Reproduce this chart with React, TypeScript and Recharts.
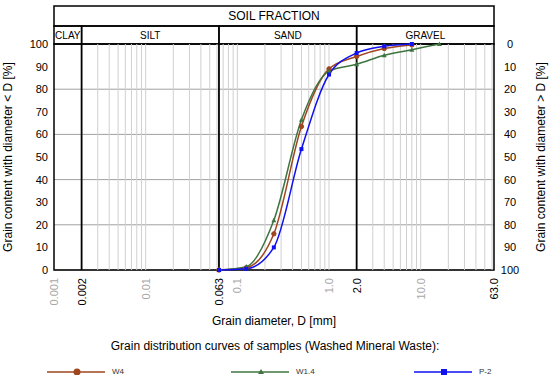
import React from 'react';
import {
  LineChart, Line, XAxis, YAxis, CartesianGrid, ReferenceLine, ReferenceArea
} from 'recharts';

// sieve sizes [mm] and passing percentages per sample
const DIAMETERS = [0.063, 0.125, 0.25, 0.5, 1, 2, 4, 8, 16];
const W4 = [0, 1, 16, 63.5, 89, 94.5, 98, 99.6];
const W14 = [0, 1.5, 22, 66.5, 88, 91, 95, 97.5, 100];
const P2 = [0, 0.5, 10, 53.5, 86.5, 96, 99, 100];

const X_TICKS = [0.001, 0.002, 0.01, 0.063, 0.1, 1, 2, 10, 63];
const X_LABELS = ['0.001', '0.002', '0.01', '0.063', '0.1', '1.0', '2.0', '10.0', '63.0'];
const X_BLACK = [0.002, 0.063, 2, 63];
const Y_TICKS = [0, 10, 20, 30, 40, 50, 60, 70, 80, 90, 100];
const BOUNDS = [0.002, 0.063, 2];
const FRACTIONS = [
  { name: 'CLAY', from: 0.001, to: 0.002 },
  { name: 'SILT', from: 0.002, to: 0.063 },
  { name: 'SAND', from: 0.063, to: 2 },
  { name: 'GRAVEL', from: 2, to: 63 },
];

const C_W4 = '#a0461e';
const C_W14 = '#3f7440';
const C_P2 = '#1010f0';

// log grid: 1..9 in every decade inside the domain
const MINOR: number[] = [];
for (let k = -3; k <= 1; k++) {
  for (let m = 1; m <= 9; m++) {
    const v = +(m * Math.pow(10, k)).toPrecision(3);
    if (v > 0.001 && v < 63) MINOR.push(v);
  }
}

const toSeries = (vals: number[]) => vals.map((v, i) => ({ d: DIAMETERS[i], v }));
// retained fraction (> D) for the right axis
const retained = P2.map((v, i) => ({ d: DIAMETERS[i], r: 100 - v }));

const CircleDot = (p: any) => (
  <circle key={p.key} cx={p.cx} cy={p.cy} r={2.2} fill={C_W4} stroke={C_W4} />
);
const TriDot = (p: any) => (
  <path key={p.key} d={`M${p.cx},${p.cy - 2.5}L${p.cx + 2.5},${p.cy + 2}L${p.cx - 2.5},${p.cy + 2}Z`} fill={C_W14} />
);
const SquareDot = (p: any) => (
  <rect key={p.key} x={p.cx - 2} y={p.cy - 2} width={4} height={4} fill={C_P2} />
);

const XTick = (p: any) => {
  const v = p.payload.value;
  const i = X_TICKS.indexOf(v);
  return (
    <text
      x={p.x} y={p.y} dy={4} textAnchor="end" fontSize={11}
      fill={X_BLACK.includes(v) ? '#000' : '#a8a8a8'}
      transform={`rotate(-90, ${p.x}, ${p.y})`}
    >
      {X_LABELS[i]}
    </text>
  );
};

function LegendItem({ left, color, label, marker }: { left: number; color: string; label: string; marker: React.ReactNode }) {
  return (
    <div style={{ position: 'absolute', left, top: 366, height: 12, width: 90 }}>
      <svg width={62} height={12} style={{ position: 'absolute', left: 0, top: 0 }}>
        <line x1={0} y1={6} x2={58} y2={6} stroke={color} strokeWidth={1.5} />
        {marker}
      </svg>
      <span style={{ position: 'absolute', left: 65, top: 1, fontSize: 8, color: '#333' }}>{label}</span>
    </div>
  );
}

export default function App() {
  return (
    <div style={{
      position: 'fixed', left: 0, top: 0, width: 550, height: 375, background: '#fff',
      fontFamily: '"Liberation Sans", Arial, sans-serif', overflow: 'hidden'
    }}>
      <LineChart width={550} height={375} margin={{ top: 44, right: 0, bottom: 0, left: 0 }}>
        <CartesianGrid yAxisId="left" vertical={false} stroke="#a0a0a0" />
        <XAxis
          dataKey="d" type="number" scale="log" domain={[0.001, 63]} allowDataOverflow
          ticks={X_TICKS} interval={0} height={105} axisLine={false} tickLine={false}
          tick={<XTick />}
          label={{ value: 'Grain diameter, D [mm]', position: 'insideTop', offset: 46, fontSize: 12, fill: '#000' }}
        />
        <YAxis
          yAxisId="left" type="number" domain={[0, 100]} ticks={Y_TICKS} width={54}
          axisLine={false} tickLine={false} tickSize={4} tickMargin={2}
          tick={{ fontSize: 11, fill: '#000' }}
          label={{
            value: 'Grain content with diameter < D [%]', angle: -90, position: 'insideLeft',
            offset: 8, fontSize: 12, fill: '#000', style: { textAnchor: 'middle' }
          }}
        />
        <YAxis
          yAxisId="right" orientation="right" type="number" domain={[0, 100]} reversed
          ticks={Y_TICKS} interval={0} width={56} axisLine={false} tickLine={false}
          tickSize={14} tickMargin={2}
          tick={{ fontSize: 11, fill: '#000', textAnchor: 'middle' }}
          label={{
            value: 'Grain content with diameter > D [%]', angle: -90, position: 'insideRight',
            offset: 9, fontSize: 12, fill: '#000', style: { textAnchor: 'middle' }
          }}
        />

        {MINOR.map(v => (
          <ReferenceLine key={v} yAxisId="left" x={v} stroke="#d0d0d0" strokeWidth={1} />
        ))}

        {/* header: soil fraction table above the plot */}
        <ReferenceArea
          yAxisId="left" x1={0.001} x2={63} y1={108} y2={116.8} ifOverflow="visible"
          fill="#fff" fillOpacity={0} stroke="#000" strokeWidth={1.5}
          label={{ value: 'SOIL FRACTION', position: 'center', fontSize: 12, fill: '#000' }}
        />
        {FRACTIONS.map(f => (
          <ReferenceArea
            key={f.name} yAxisId="left" x1={f.from} x2={f.to} y1={100} y2={108} ifOverflow="visible"
            fill="#fff" fillOpacity={0} stroke="#000" strokeWidth={1.5}
            label={{ value: f.name, position: 'center', fontSize: 10, fill: '#000' }}
          />
        ))}

        <Line
          yAxisId="right" data={retained} dataKey="r" type="monotone" stroke="none"
          dot={false} activeDot={false} legendType="none" isAnimationActive={false}
        />
        <Line
          yAxisId="left" data={toSeries(W4)} dataKey="v" type="monotone" stroke={C_W4}
          strokeWidth={1.5} dot={CircleDot} activeDot={false} isAnimationActive={false}
        />
        <Line
          yAxisId="left" data={toSeries(W14)} dataKey="v" type="monotone" stroke={C_W14}
          strokeWidth={1.5} dot={TriDot} activeDot={false} isAnimationActive={false}
        />
        <Line
          yAxisId="left" data={toSeries(P2)} dataKey="v" type="monotone" stroke={C_P2}
          strokeWidth={1.5} dot={SquareDot} activeDot={false} isAnimationActive={false}
        />

        {BOUNDS.map(b => (
          <ReferenceLine
            key={b} yAxisId="left" ifOverflow="visible" stroke="#000" strokeWidth={1.8}
            segment={[{ x: b, y: 0 }, { x: b, y: 100 }]}
          />
        ))}
        <ReferenceArea
          yAxisId="left" x1={0.001} x2={63} y1={0} y2={100} ifOverflow="visible"
          fill="#fff" fillOpacity={0} stroke="#000" strokeWidth={1.5}
        />
      </LineChart>

      <div style={{ position: 'absolute', left: 0, width: 550, top: 339, textAlign: 'center', fontSize: 12, color: '#000' }}>
        Grain distribution curves of samples (Washed Mineral Waste):
      </div>
      <LegendItem left={47} color={C_W4} label="W4"
        marker={<circle cx={30} cy={6} r={3.5} fill={C_W4} />} />
      <LegendItem left={231} color={C_W14} label="W1.4"
        marker={<path d="M30,3L33,8L27,8Z" fill={C_W14} />} />
      <LegendItem left={414} color={C_P2} label="P-2"
        marker={<rect x={27} y={3} width={6} height={6} fill={C_P2} />} />
    </div>
  );
}
